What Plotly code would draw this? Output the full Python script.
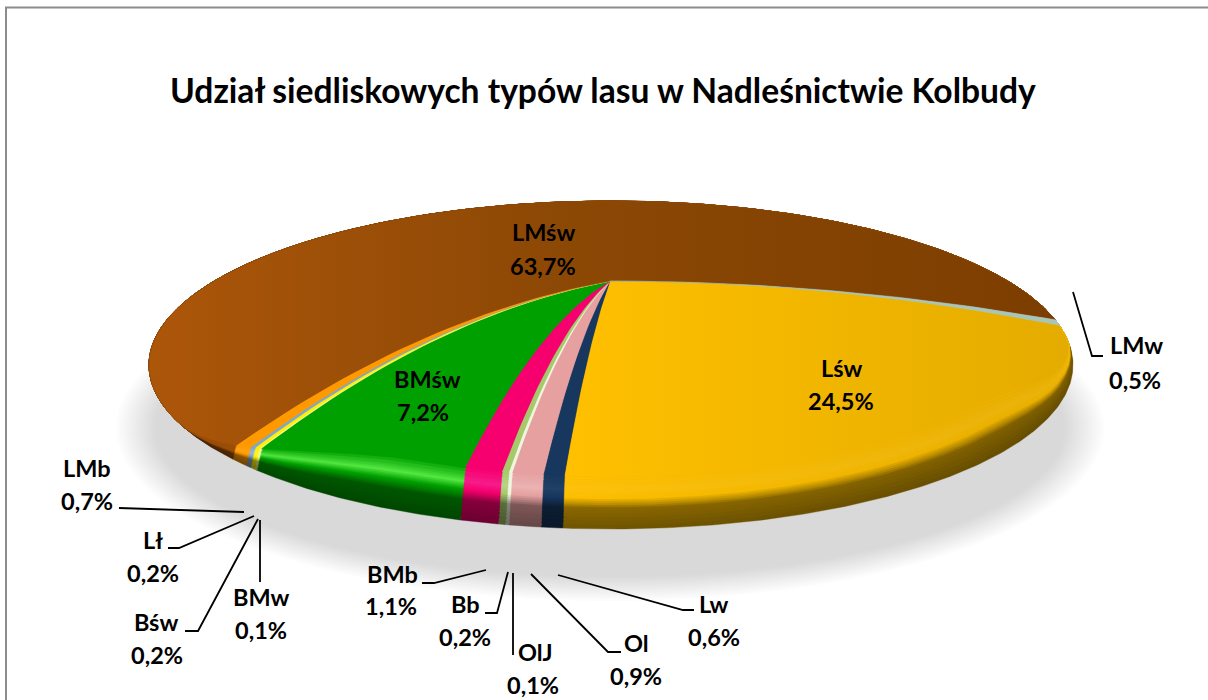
import numpy as np
import plotly.graph_objects as go

# ---- data ----
categories = ["Lśw", "Lw", "Ol", "OlJ", "Bb", "BMb", "BMśw", "BMw", "Bśw", "Lł", "LMb", "LMśw", "LMw"]
values = [24.5, 0.6, 0.9, 0.1, 0.2, 1.1, 7.2, 0.1, 0.2, 0.2, 0.7, 63.7, 0.5]
title_text = "Udział siedliskowych typów lasu w Nadleśnictwie Kolbudy"

# ---- styles ----
colors = ["#F4B800", "#17375E", "#E6A0A0", "#EEF5E0", "#A6C96A", "#F5006E", "#00A000",
          "#F8F890", "#FFF000", "#7BA7D0", "#FF9900", "#8F4A05", "#A9C4B8"]
highlight = [0.05, 0.05, 0.2, 0.1, 0.2, 0.3, 0.75, 0.2, 0.2, 0.2, 0.1, 0.0, 0.0]
shine = ["#FFFFFF", "#FFFFFF", "#FFFFFF", "#FFFFFF", "#FFFFFF", "#FF60D0", "#70FF58",
         "#FFFFFF", "#FFFFFF", "#FFFFFF", "#FFFFFF", "#FFFFFF", "#FFFFFF"]
gradients = {
    "LMśw": [(0, "#AC560A"), (0.45, "#8C4805"), (1, "#7C3E00")],
    "Lśw": [(0, "#FFC000"), (1, "#E4AC00")],
}

label_pos = {
    "LMśw": (543, 233, 543, 267), "BMśw": (427, 380, 423, 413), "Lśw": (841, 369, 841, 402),
    "LMw": (1136, 346, 1135, 381), "LMb": (87, 469, 87, 502), "Lł": (153, 541, 153, 574),
    "Bśw": (156, 623, 157, 656), "BMw": (261, 598, 261, 631), "BMb": (392, 575, 391, 607),
    "Bb": (465, 605, 465, 638), "OlJ": (535, 653, 533, 686), "Ol": (636, 644, 636, 677),
    "Lw": (714, 605, 714, 638),
}
leaders = [
    [(119, 508), (244, 512)],
    [(168, 548), (179, 548), (254, 516)],
    [(185, 631), (198, 631), (258, 519)],
    [(260, 520), (260, 582)],
    [(422, 583), (434, 583), (486, 570)],
    [(485, 613), (497, 613), (508, 572)],
    [(513, 573), (513, 655)],
    [(621, 652), (608, 652), (531, 574)],
    [(694, 610), (683, 610), (558, 575)],
    [(1073, 292), (1092, 356), (1103, 356)],
]

# ---- projection of the tilted disc ----
CX, CY, RX, RY = 611.0, 365.0, 462.0, 164.0
PX, PY = 610.0, 281.0
PHI0, WARP, WARP_C = 91.06, 16.7, 64.4


def phi_of(theta):
    return PHI0 + theta + WARP * np.sin(np.radians(theta - WARP_C))


def smooth(a, b, x):
    t = np.clip((x - a) / (b - a), 0, 1)
    return t * t * (3 - 2 * t)


def rim(phi, d):
    p = np.radians(phi)
    m = np.mod(phi, 360)
    g = smooth(85, 125, m) * (1 - smooth(205, 250, m))
    x = CX + RX * np.sin(p) - 0.3 * d * smooth(80, 100, m) * (1 - smooth(205, 250, m)) * np.sin(p)
    y = CY - RY * np.cos(p) - d * g
    return x, y


def spoke(rx, ry):
    dx, dy = rx - PX, ry - PY
    frac = (0.2 + 0.25 * np.exp(-abs(dx) / 60.0)) * smooth(40, 120, abs(dy))
    cxx, cyy = PX + dx / 2, PY + dy * frac
    t = np.linspace(0, 1, 40)
    return ((1 - t) ** 2 * PX + 2 * t * (1 - t) * cxx + t ** 2 * rx,
            (1 - t) ** 2 * PY + 2 * t * (1 - t) * cyy + t ** 2 * ry)


def wedge(t0, t1, d):
    n = max(3, int(abs(t1 - t0) * 2))
    phis = phi_of(np.linspace(t0, t1, n))
    ax, ay = rim(phis, d)
    s0x, s0y = spoke(ax[0], ay[0])
    s1x, s1y = spoke(ax[-1], ay[-1])
    return (np.concatenate([s0x, ax, s1x[::-1]]), np.concatenate([s0y, ay, s1y[::-1]]))


def rgb(h):
    return np.array([int(h[i:i + 2], 16) for i in (1, 3, 5)], float)


def shade(base, hi, d, target="#FFFFFF"):
    f = np.interp(d, [0, 20, 24, 30], [0.45, 0.55, 0.75, 1.0])
    h = np.interp(d, [30, 38, 52], [0, 1, 0]) * hi
    c = rgb(base) * f
    c = c + (rgb(target) - c) * h
    return "rgb(%d,%d,%d)" % tuple(np.clip(c, 0, 255))


fig = go.Figure()

# soft shadow
t = np.linspace(0, 2 * np.pi, 200)
for k in np.linspace(0, 1, 14):
    rx, ry = 497 - 42 * k, 175 - 26 * k
    v = 255 - (255 - 217) * k
    fig.add_trace(go.Scatter(x=610 + rx * np.cos(t), y=428 + ry * np.sin(t), mode="lines", fill="toself",
                             fillcolor="rgb(%d,%d,%d)" % (v, v, v), line=dict(width=0), hoverinfo="skip"))

# disc
drops = [0, 4, 8, 12, 15, 18, 20, 22, 24, 26, 28, 30, 32, 34, 36, 38, 40, 42, 44, 46, 49, 52]
edges = np.concatenate([[0], np.cumsum(values)]) / sum(values) * 360.0
for d in drops:
    for i, name in enumerate(categories):
        x, y = wedge(edges[i], edges[i + 1], d)
        col = shade(colors[i], highlight[i], d, shine[i])
        kw = dict(fillcolor=col)
        if name in gradients:
            scale = [[s, shade(c, highlight[i], d, shine[i])] for s, c in gradients[name]]
            kw = dict(fillgradient=dict(type="horizontal", colorscale=scale))
        fig.add_trace(go.Scatter(x=x, y=y, mode="lines", fill="toself", line=dict(width=0.4, color=col),
                                 hoverinfo="skip", **kw))

# leader lines
for pts in leaders:
    fig.add_trace(go.Scatter(x=[p[0] for p in pts], y=[p[1] for p in pts], mode="lines",
                             line=dict(color="black", width=1.8), hoverinfo="skip"))

FONT = "Lato, Carlito, Calibri, sans-serif"
annotations = [dict(x=603, y=90, text="<b>%s</b>" % title_text, showarrow=False,
                    font=dict(family=FONT, size=33.6, color="black"))]
for name, v in zip(categories, values):
    x1, y1, x2, y2 = label_pos[name]
    annotations.append(dict(x=x1, y=y1 - 1, text="<b>%s</b>" % name, showarrow=False,
                            font=dict(family=FONT, size=23.5, color="black")))
    annotations.append(dict(x=x2, y=y2 - 1, text="<b>%s%%</b>" % ("%.1f" % v).replace(".", ","), showarrow=False,
                            font=dict(family=FONT, size=23.5, color="black")))

fig.update_layout(
    width=1208, height=700, margin=dict(l=0, r=0, t=0, b=0), showlegend=False,
    paper_bgcolor="white", plot_bgcolor="white",
    xaxis=dict(range=[0, 1208], visible=False, fixedrange=True),
    yaxis=dict(range=[700, 0], visible=False, fixedrange=True),
    annotations=annotations,
    shapes=[dict(type="rect", x0=6, y0=7.5, x1=1240, y1=760, line=dict(color="#8C8C8C", width=2))],
)
fig.write_html("out.html", config=dict(displayModeBar=False),
               post_script="document.body.style.margin='0';document.body.style.overflow='hidden';")
